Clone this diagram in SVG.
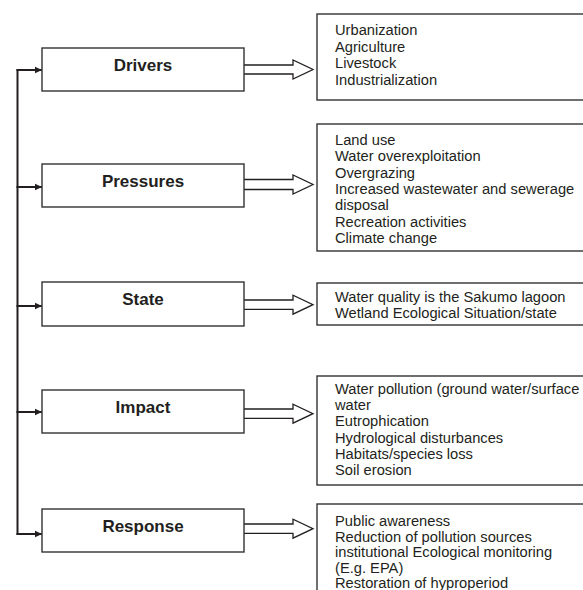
<svg xmlns="http://www.w3.org/2000/svg" width="583" height="590" viewBox="0 0 583 590">
<style>
.box{fill:#fff;stroke:#333;stroke-width:1.4}
.lbl{font-family:"Liberation Sans",Arial,sans-serif;font-weight:bold;font-size:17px;fill:#231f20;text-anchor:middle}
.txt{font-family:"Liberation Sans",Arial,sans-serif;font-size:14.7px;fill:#231f20}
.hollow{fill:#fff;stroke:#231f20;stroke-width:1.3}
.link{fill:none;stroke:#231f20;stroke-width:2}
</style>
<defs>
<marker id="ah" markerWidth="8" markerHeight="8" refX="7" refY="4" orient="auto" markerUnits="userSpaceOnUse">
<path d="M0,0.8 L7,4 L0,7.2 Z" fill="#231f20"/>
</marker>
</defs>
<rect width="583" height="590" fill="#fff"/>
<g id="connectors">
<path class="link" d="M17.5,69 V535"/>
<path class="link" d="M16.5,70 H42" marker-end="url(#ah)"/>
<path class="link" d="M16.5,187 H42" marker-end="url(#ah)"/>
<path class="link" d="M16.5,306 H42" marker-end="url(#ah)"/>
<path class="link" d="M16.5,412 H42" marker-end="url(#ah)"/>
<path class="link" d="M16.5,534 H42" marker-end="url(#ah)"/>
<path class="hollow" d="M244,65 H293 V60 L313,69.5 L293,79 V74 H244"/>
<path class="hollow" d="M244,179.5 H293 V175 L313,184.5 L293,194 V189.5 H244"/>
<path class="hollow" d="M244,300 H293 V295.2 L313,304.7 L293,314.2 V309.4 H244"/>
<path class="hollow" d="M244,409 H293 V404.2 L313,413.7 L293,423.2 V418.4 H244"/>
<path class="hollow" d="M244,524 H293 V519.2 L313,528.7 L293,538.2 V533.4 H244"/>
</g>
<g id="drivers"><rect class="box" x="42" y="48" width="202" height="43"/><text class="lbl" x="143" y="71">Drivers</text></g>
<g id="pressures"><rect class="box" x="42" y="164" width="202" height="43"/><text class="lbl" x="143" y="187">Pressures</text></g>
<g id="state"><rect class="box" x="42" y="282" width="202" height="44"/><text class="lbl" x="143" y="305">State</text></g>
<g id="impact"><rect class="box" x="42" y="390" width="202" height="43"/><text class="lbl" x="143" y="413">Impact</text></g>
<g id="response"><rect class="box" x="42" y="509" width="202" height="43"/><text class="lbl" x="143" y="532">Response</text></g>
<g id="drivers-list"><rect class="box" x="317" y="14" width="280" height="86"/>
<text class="txt" x="335" y="35">Urbanization</text>
<text class="txt" x="335" y="51.5">Agriculture</text>
<text class="txt" x="335" y="68">Livestock</text>
<text class="txt" x="335" y="84.5">Industrialization</text></g>
<g id="pressures-list"><rect class="box" x="317" y="124" width="280" height="127"/>
<text class="txt" x="335" y="145">Land use</text>
<text class="txt" x="335" y="161.3">Water overexploitation</text>
<text class="txt" x="335" y="177.6">Overgrazing</text>
<text class="txt" x="335" y="193.9">Increased wastewater and sewerage</text>
<text class="txt" x="335" y="210.2">disposal</text>
<text class="txt" x="335" y="226.5">Recreation activities</text>
<text class="txt" x="335" y="242.8">Climate change</text></g>
<g id="state-list"><rect class="box" x="317" y="283" width="280" height="42"/>
<text class="txt" x="335" y="302">Water quality is the Sakumo lagoon</text>
<text class="txt" x="335" y="318">Wetland Ecological Situation/state</text></g>
<g id="impact-list"><rect class="box" x="317" y="376" width="280" height="109"/>
<text class="txt" x="335" y="394">Water pollution (ground water/surface</text>
<text class="txt" x="335" y="410">water</text>
<text class="txt" x="335" y="426.3">Eutrophication</text>
<text class="txt" x="335" y="442.6">Hydrological disturbances</text>
<text class="txt" x="335" y="458.9">Habitats/species loss</text>
<text class="txt" x="335" y="475.2">Soil erosion</text></g>
<g id="response-list"><rect class="box" x="317" y="504" width="280" height="100"/>
<text class="txt" x="335" y="526">Public awareness</text>
<text class="txt" x="335" y="541.5">Reduction of pollution sources</text>
<text class="txt" x="335" y="557">institutional Ecological monitoring</text>
<text class="txt" x="335" y="572.5">(E.g. EPA)</text>
<text class="txt" x="335" y="588">Restoration of hyproperiod</text></g>
</svg>
